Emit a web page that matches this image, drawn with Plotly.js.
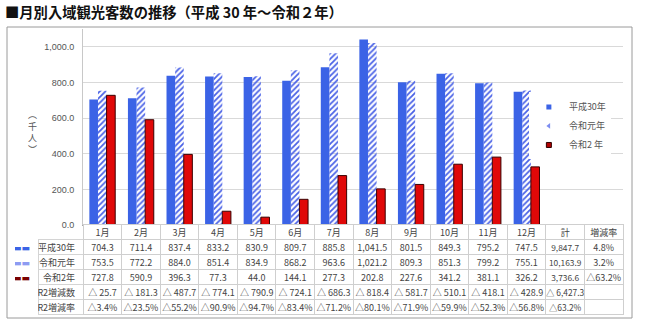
<!DOCTYPE html>
<html>
<head>
<meta charset="utf-8">
<script src="https://cdn.plot.ly/plotly-3.0.1.min.js"></script>
<style>
  html, body { margin: 0; padding: 0; background: #ffffff; }
  #chart { width: 650px; height: 330px; }
</style>
</head>
<body>
<div id="chart"></div>
<script>
// ---- data (thousand visitors) ----
const months = ['1月','2月','3月','4月','5月','6月','7月','8月','9月','10月','11月','12月'];
const extraCols = ['計','増減率'];
const seriesNames = ['平成30年','令和元年','令和2 年'];
const rowLabels = ['平成30年','令和元年','令和2年','R2増減数','R2増減率'];

const h30 = [704.3, 711.4, 837.4, 833.2, 830.9, 809.7, 885.8, 1041.5, 801.5, 849.3, 795.2, 747.5];
const r1  = [753.5, 772.2, 884.0, 851.4, 834.9, 868.2, 963.6, 1021.2, 809.3, 851.3, 799.2, 755.1];
const r2  = [727.8, 590.9, 396.3, 77.3, 44.0, 144.1, 277.3, 202.8, 227.6, 341.2, 381.1, 326.2];
// decreases (shown with △)
const r2Diff = [25.7, 181.3, 487.7, 774.1, 790.9, 724.1, 686.3, 818.4, 581.7, 510.1, 418.1, 428.9];
const r2Rate = [3.4, 23.5, 55.2, 90.9, 94.7, 83.4, 71.2, 80.1, 71.9, 59.9, 52.3, 56.8];
// totals column: H30, R1, R2, R2 diff (decrease), R2 rate (decrease)
const totals = [9847.7, 10163.9, 3736.6, 6427.3, 63.2];
// year-on-year change column: H30, R1, R2 (negative = △)
const yoyRate = [4.8, 3.2, -63.2];

// ---- helpers ----
const NB = '\u00a0';
const fmt = v => v.toLocaleString('en-US', {minimumFractionDigits: 1, maximumFractionDigits: 1});
const tri = '△';
const pct = v => (v < 0 ? tri + Math.abs(v).toFixed(1) : v.toFixed(1)) + '%';

const C_H30 = '#3b63e6';
const C_R1_BG = '#dfe3fb';
const C_R1_FG = '#4a62e6';
const C_R2 = '#e00808';
const TXT = '#444444';
const FONT = 'Liberation Sans, "Noto Sans CJK JP", sans-serif';
const JFONT = '"Noto Sans CJK JP", sans-serif';
const CLEAR = 'rgba(0,0,0,0)';

// ---- bars ----
const bars = [
  {type:'bar', x: months, y: h30, name: seriesNames[0], showlegend:false,
   marker:{color: C_H30, line:{width:0}}},
  {type:'bar', x: months, y: r1, name: seriesNames[1], showlegend:false,
   marker:{color: C_R1_BG, line:{width:0},
           pattern:{shape:'/', fgcolor: C_R1_FG, size:4, solidity:0.45}}},
  {type:'bar', x: months, y: r2, name: seriesNames[2], showlegend:false,
   marker:{color: C_R2, line:{color:'#3a0000', width:1}}}
];

// small legend keys (legend-only entries)
const legendKeys = [
  {type:'scatter', mode:'markers', x:[null], y:[null], name: seriesNames[0],
   marker:{symbol:'square', size:5, color: C_H30}},
  {type:'scatter', mode:'markers', x:[null], y:[null], name: seriesNames[1],
   marker:{symbol:'triangle-left', size:5, color:'#7c8cf0'}},
  {type:'scatter', mode:'markers', x:[null], y:[null], name: seriesNames[2],
   marker:{symbol:'square', size:5, color:'#b00000', line:{color:'#300000', width:1}}}
];

// ---- table ----
const allCols = months.concat(extraCols);
const swatchCol = ['▬▬', '▬▬', '▬▬', '', ''];
const swatchColors = [C_H30, '#8d9bf2', '#7a0000', TXT, TXT];
const cellCols = [swatchCol, rowLabels];
for (let i = 0; i < months.length; i++) {
  cellCols.push([fmt(h30[i]), fmt(r1[i]), fmt(r2[i]), tri + NB + fmt(r2Diff[i]), tri + r2Rate[i].toFixed(1) + '%']);
}
cellCols.push([fmt(totals[0]), fmt(totals[1]), fmt(totals[2]), tri + NB + fmt(totals[3]), tri + totals[4].toFixed(1) + '%']);
cellCols.push([pct(yoyRate[0]), pct(yoyRate[1]), pct(yoyRate[2]), '', '']);

const headerVals = ['', ''].concat(allCols);
const colWidths = [23, 45].concat(allCols.map(() => 38.5));
const headerLine = [CLEAR, CLEAR].concat(allCols.map(() => '#cfcfcf'));
const headerFill = [CLEAR, CLEAR].concat(allCols.map(() => '#ffffff'));
const aligns = ['right', 'right'].concat(allCols.map(() => 'center'));
const cellLine = [CLEAR, '#d4d4d4'].concat(allCols.map(() => '#cfcfcf'));
const fontColors = [swatchColors, TXT].concat(allCols.map(() => TXT));
const fontFamilies = ['DejaVu Sans', JFONT].concat(allCols.map(() => JFONT));
const fontSizes = [9, 9].concat(allCols.map(c => c === '計' ? 8.4 : 9));

const blank = arr => arr.map(v => Array.isArray(v) ? v.map(() => '') : '');

// grid (lines & fills) of the table
const tableGrid = {
  type:'table',
  domain:{x:[0.0128, 0.9856], y:[0.0, 0.3196]},
  columnwidth: colWidths,
  header:{values: blank(headerVals), height:15, align: aligns,
          font:{family: JFONT, size:9, color: TXT},
          line:{color: headerLine, width:1}, fill:{color: headerFill}},
  cells:{values: blank(cellCols), height:15, align: aligns,
         font:{family: JFONT, size:9, color: TXT},
         line:{color: cellLine, width:1}, fill:{color:'#ffffff'}}
};
// text layer of the table (nudged up so text sits centred in each row)
const tableText = {
  type:'table',
  domain:{x:[0.0128, 0.9856], y:[0.0112, 0.3308]},
  columnwidth: colWidths,
  header:{values: headerVals, height:15, align: aligns,
          font:{family: JFONT, size:9, color: TXT},
          line:{color: CLEAR, width:0}, fill:{color: CLEAR}},
  cells:{values: cellCols, height:15, align: aligns,
         font:{family: fontFamilies, size: fontSizes, color: fontColors},
         line:{color: CLEAR, width:0}, fill:{color: CLEAR}}
};

const layout = {
  width: 650, height: 330,
  margin:{l:7, r:18, t:27, b:12, pad:0},
  paper_bgcolor:'#ffffff', plot_bgcolor:'#ffffff',
  font:{family: JFONT, size:9, color: TXT},
  title:{text:'<b>■月別入域観光客数の推移（平成 30 年～令和２年）</b>',
         x: 5/650, xanchor:'left', xref:'container',
         y: 1 - 13/330, yanchor:'middle', yref:'container',
         font:{family: JFONT, size:14.3, color:'#111111'}},
  barmode:'group', bargap:0.33, bargroupgap:0,
  showlegend:true,
  legend:{x:0.835, y:0.775, xanchor:'left', yanchor:'top',
          bgcolor:'#ffffff', font:{family: JFONT, size:9, color:'#555555'},
          itemwidth:30, tracegroupgap:0},
  xaxis:{type:'category', categoryorder:'array', categoryarray: allCols,
         range:[-0.5, allCols.length - 0.5], domain:[0.1216, 0.9856],
         showticklabels:false, ticks:'', showgrid:false,
         showline:true, linecolor:'#a8a8a8', linewidth:1, zeroline:false, fixedrange:true},
  yaxis:{range:[0, 1100], dtick:200, tick0:0, domain:[0.3196, 0.9931],
         tickformat:',.1f', tickfont:{family: FONT, size:9, color:'#555555'},
         showgrid:true, gridcolor:'#d9d9d9', gridwidth:1,
         zeroline:false, showline:true, linecolor:'#c8c8c8', ticks:'', ticklabelstandoff:6,
         fixedrange:true},
  shapes:[{type:'rect', xref:'paper', yref:'paper', x0:0, x1:1, y0:0, y1:1,
           line:{color:'#9a9a9a', width:1}, fillcolor:'rgba(0,0,0,0)', layer:'below'}],
  annotations:[{xref:'paper', yref:'paper', x:0.040, y:0.64, xanchor:'center', yanchor:'middle',
                text:'︵<br>千<br>人<br>︶', showarrow:false,
                font:{family: JFONT, size:9, color:'#555555'}}]
};

Plotly.newPlot('chart', bars.concat(legendKeys).concat([tableGrid, tableText]), layout,
               {displayModeBar:false, staticPlot:true});
</script>
</body>
</html>
